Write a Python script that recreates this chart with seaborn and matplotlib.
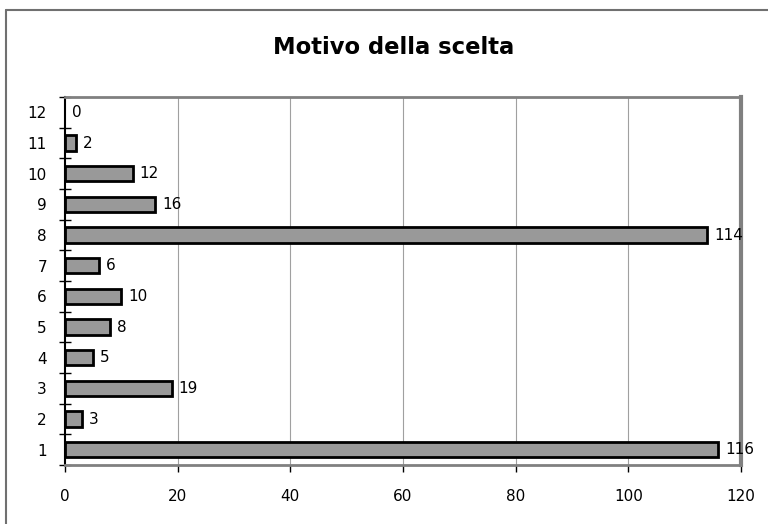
import matplotlib
matplotlib.use("Agg")
import matplotlib.pyplot as plt
import seaborn as sns
import pandas as pd
from matplotlib.lines import Line2D
from matplotlib.ticker import FixedLocator

categories = ["1", "2", "3", "4", "5", "6", "7", "8", "9", "10", "11", "12"]
values = [116, 3, 19, 5, 8, 10, 6, 114, 16, 12, 2, 0]
x_ticks = [0, 20, 40, 60, 80, 100, 120]
title = "Motivo della scelta"

sns.set_style("white")
plt.rcParams['font.family'] = ['DejaVu Sans']
plt.rcParams['text.color'] = 'black'
plt.rcParams['xtick.color'] = 'black'
plt.rcParams['ytick.color'] = 'black'

df = pd.DataFrame({"cat": categories, "val": values})
order = categories[::-1]

fig = plt.figure(figsize=(7.68, 5.24), dpi=100)
ax = fig.add_axes([65/768, 1-465/524, (741-65)/768, (465-97)/524])

sns.barplot(data=df, y="cat", x="val", order=order, orient="h", ax=ax,
            color="#999999", edgecolor="black", linewidth=2, width=0.5,
            saturation=1)
for p in ax.patches:
    if p.get_width() == 0:
        p.set_visible(False)

ax.set_xlim(0, 120)
ax.set_ylim(len(order)-0.5, -0.5)
ax.set_xticks(x_ticks)
ax.set_xticklabels([str(t) for t in x_ticks], fontsize=11)
ax.set_yticks(range(len(order)))
ax.set_yticklabels(order, fontsize=11)
ax.yaxis.set_minor_locator(FixedLocator([i - 0.5 for i in range(len(order)+1)]))
ax.tick_params(axis='y', which='major', left=True, length=0, pad=13)
ax.tick_params(axis='y', which='minor', left=True, length=8, direction='inout', width=1, color='black')
ax.tick_params(axis='x', which='major', bottom=True, length=5, direction='out', width=1, color='black', pad=12)
ax.set_xlabel("")
ax.set_ylabel("")

for x in x_ticks[1:-1]:
    ax.axvline(x, color="#a0a0a0", linewidth=0.8, zorder=0)

for side in ["top", "right", "bottom"]:
    ax.spines[side].set_color("#808080")
    ax.spines[side].set_linewidth(2)
ax.spines["right"].set_linewidth(3)
ax.spines["left"].set_color("black")
ax.spines["left"].set_linewidth(1.5)

for i, c in enumerate(order):
    v = values[categories.index(c)]
    ax.text(v + 1.2, i, str(v), va="center", ha="left", fontsize=11)

fig.text(0.512, 1-47/524, title, ha="center", va="center", fontsize=16.3, fontweight="bold")

fig.add_artist(Line2D([6/768, 1.0], [1-10/524, 1-10/524], transform=fig.transFigure, color="#707070", linewidth=1.5))
fig.add_artist(Line2D([6/768, 6/768], [0, 1-10/524], transform=fig.transFigure, color="#707070", linewidth=1.5))

fig.savefig("out.png", dpi=100)
